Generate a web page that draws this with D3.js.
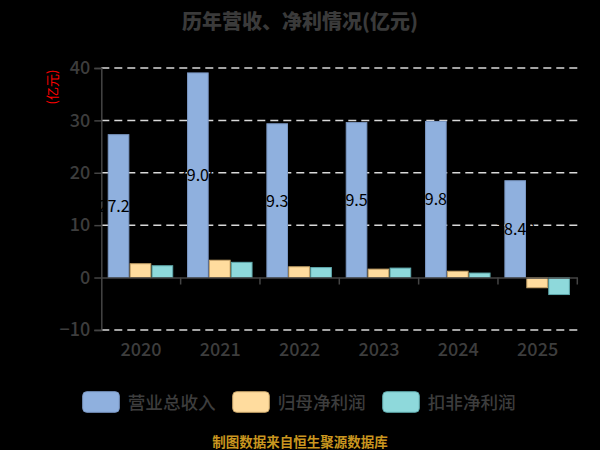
<!DOCTYPE html>
<html><head><meta charset="utf-8">
<script src="https://cdn.jsdelivr.net/npm/d3@7"></script>
<style>
html,body{margin:0;padding:0;background:#000;}
svg{display:block;}
text{font-family:"Noto Sans CJK SC","Noto Sans",sans-serif;}
</style></head>
<body>
<svg id="chart" width="600" height="450"></svg>
<script>
const years = ["2020","2021","2022","2023","2024","2025"];
const seriesNames = ["营业总收入","归母净利润","扣非净利润"];
const revenue = [27.27, 39.06, 29.35, 29.58, 29.80, 18.48];
const netProfit = [2.63, 3.30, 2.05, 1.60, 1.20, -1.95];
const deductedProfit = [2.25, 2.90, 1.90, 1.80, 0.85, -3.25];
const yTicks = [-10, 0, 10, 20, 30, 40];
const colors = ["#8fb0de", "#ffdc9e", "#8ed9db"];
const strokes = ["#7b98c4", "#c8a56a", "#5fa9ac"];

const series = [revenue, netProfit, deductedProfit];
const svg = d3.select("#chart");
const plotLeft = 101.3, plotRight = 577.3, plotTop = 68, plotBottom = 329.9;

const x = d3.scaleBand().domain(years).range([plotLeft, plotRight]).padding(0);
const y = d3.scaleLinear().domain([-10, 40]).range([plotBottom, plotTop]);
const inner = d3.scaleBand().domain([0,1,2]).range([0, 64.5]).paddingInner(0.06);
const groupOffset = (x.bandwidth() - 64.5) / 2 - 0.5;

// title
svg.append("text").attr("x", 300).attr("y", 29).attr("text-anchor", "middle")
  .attr("font-size", 20).attr("font-weight", "900").attr("fill", "#3a3a3a")
  .text("历年营收、净利情况(亿元)");

// grid
svg.append("g").selectAll("line").data(yTicks.filter(d => d !== 0)).join("line")
  .attr("x1", plotLeft).attr("x2", plotRight)
  .attr("y1", d => y(d)).attr("y2", d => y(d))
  .attr("stroke", "#d9d9d9").attr("stroke-width", 1.5).attr("stroke-dasharray", "8,5");

// y axis
const yAxis = svg.append("g").attr("transform", `translate(${plotLeft},0)`)
  .call(d3.axisLeft(y).tickValues(yTicks).tickSize(7).tickPadding(4).tickFormat(d3.format("d")));
yAxis.select(".domain").attr("stroke", "#444").attr("stroke-width", 1.5);
yAxis.selectAll(".tick line").attr("stroke", "#444").attr("stroke-width", 1.5);
yAxis.selectAll(".tick text").attr("fill", "#3d3d3d").attr("font-size", 18).attr("font-weight", 500)
  .attr("font-family", "'Noto Sans CJK SC',sans-serif");

// unit label
svg.append("text").attr("transform", `translate(57,87) rotate(-90)`)
  .attr("text-anchor", "middle").attr("font-size", 13).attr("fill", "#ff0000")
  .text("(亿元)");

// bars
const groups = svg.append("g").selectAll("g").data(years).join("g")
  .attr("transform", d => `translate(${x(d) + groupOffset},0)`);
groups.selectAll("rect").data((d, i) => series.map((s, k) => ({k, v: s[i]}))).join("rect")
  .attr("x", d => inner(d.k))
  .attr("width", inner.bandwidth())
  .attr("y", d => y(Math.max(0, d.v)))
  .attr("height", d => Math.abs(y(d.v) - y(0)))
  .attr("fill", d => colors[d.k])
  .attr("stroke", d => strokes[d.k]).attr("stroke-width", 1);

// x axis at zero
const xAxis = svg.append("g").attr("transform", `translate(0,${y(0)})`)
  .call(d3.axisBottom(x).tickSize(0).tickFormat(""));
xAxis.select(".domain").attr("stroke", "#444").attr("stroke-width", 1.5);
xAxis.selectAll(".tick").remove();
svg.append("g").selectAll("line").data(years).join("line")
  .attr("x1", d => x(d) + x.step()).attr("x2", d => x(d) + x.step())
  .attr("y1", y(0)).attr("y2", y(0) + 7)
  .attr("stroke", "#444").attr("stroke-width", 1.5);

// x labels at bottom
svg.append("g").selectAll("text").data(years).join("text")
  .attr("x", d => x(d) + x.bandwidth() / 2).attr("y", 356)
  .attr("text-anchor", "middle").attr("font-size", 18).attr("font-weight", 500).attr("fill", "#3d3d3d")
  .text(d => d);

// value labels on revenue bars
groups.append("text")
  .attr("x", inner(0) + inner.bandwidth() / 2)
  .attr("y", (d, i) => (y(revenue[i]) + y(0)) / 2 + 6)
  .attr("text-anchor", "middle").attr("font-size", 16).attr("fill", "#000")
  .text((d, i) => revenue[i].toFixed(2));

// legend
const legend = svg.append("g").selectAll("g").data(seriesNames).join("g")
  .attr("transform", (d, i) => `translate(${82.7 + i * 150},391.7)`);
legend.append("rect").attr("width", 36.6).attr("height", 20.6).attr("rx", 4)
  .attr("fill", (d, i) => colors[i]).attr("stroke", (d, i) => strokes[i]);
legend.append("text").attr("x", 45).attr("y", 17).attr("font-size", 17.6).attr("font-weight", 500).attr("fill", "#3d3d3d")
  .text(d => d);

// footer
svg.append("text").attr("x", 300).attr("y", 447).attr("text-anchor", "middle")
  .attr("font-size", 13.5).attr("font-weight", "bold").attr("fill", "#c9961f")
  .text("制图数据来自恒生聚源数据库");
</script>
</body></html>
